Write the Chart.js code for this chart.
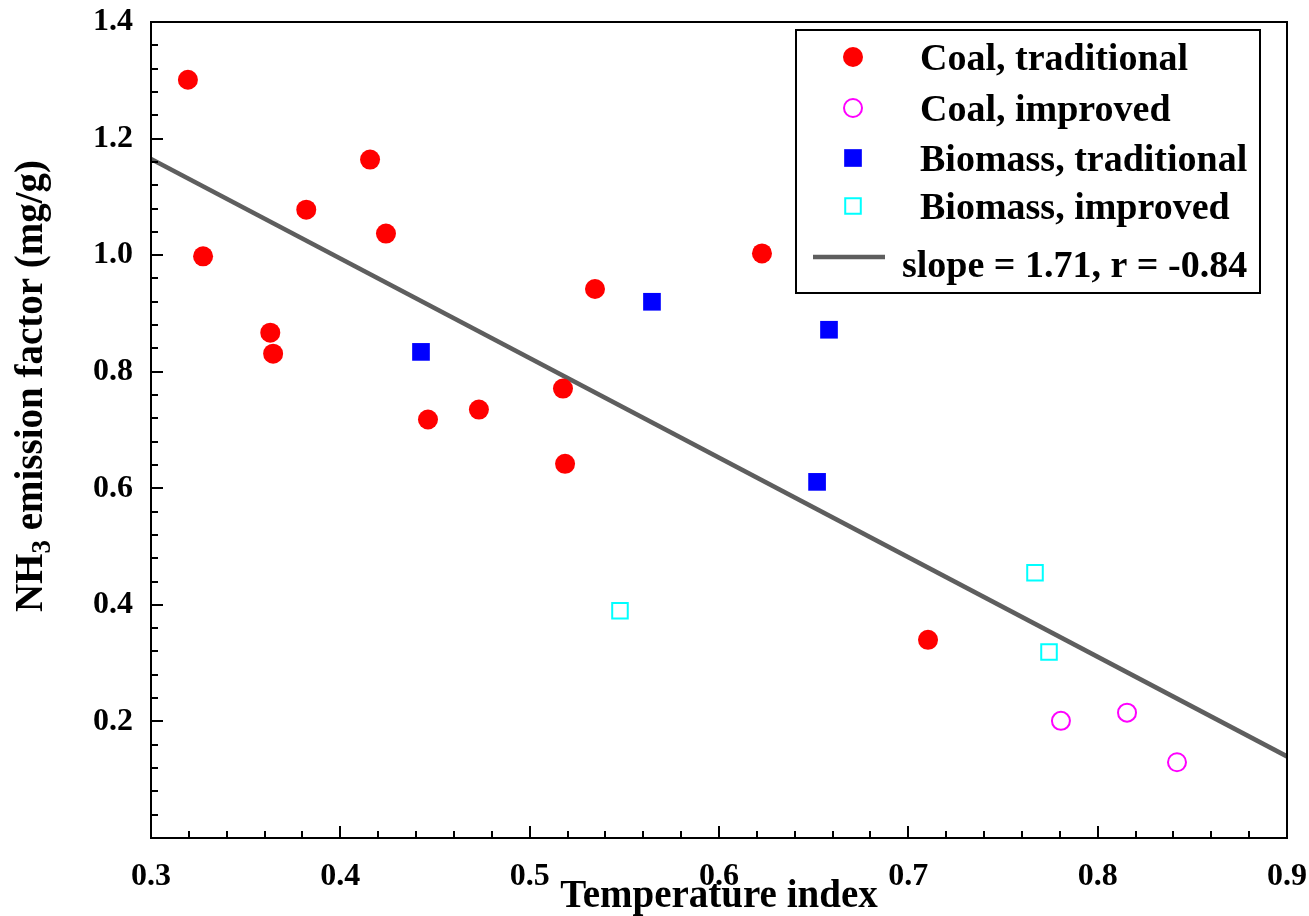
<!DOCTYPE html>
<html>
<head>
<meta charset="utf-8">
<script src="https://cdn.jsdelivr.net/npm/chart.js@4.4.1/dist/chart.umd.min.js"></script>
<style>
  html, body { margin: 0; padding: 0; background: #fff; }
  #wrap { width: 1309px; height: 916px; }
</style>
</head>
<body>
<div id="wrap"><canvas id="myChart" width="1309" height="916"></canvas></div>
<script>
// values
const coalTradX = [0.3195, 0.3275, 0.363, 0.3645, 0.382, 0.4157, 0.4241, 0.4463, 0.4732, 0.5176, 0.5187, 0.5345, 0.6227, 0.7104];
const coalTradY = [1.301, 0.998, 0.867, 0.831, 1.078, 1.164, 1.037, 0.718, 0.735, 0.771, 0.642, 0.942, 1.003, 0.340];

const coalImpX = [0.7806, 0.8155, 0.8419];
const coalImpY = [0.201, 0.215, 0.130];

const bioTradX = [0.4426, 0.5646, 0.6581, 0.6518];
const bioTradY = [0.834, 0.920, 0.872, 0.611];

const bioImpX = [0.5477, 0.7669, 0.7743];
const bioImpY = [0.390, 0.455, 0.319];

const fitX = [0.3, 0.9];
const fitY = [1.165, 0.140];

const seriesLabels = ['Coal, traditional', 'Coal, improved', 'Biomass, traditional', 'Biomass, improved', 'slope = 1.71, r = -0.84'];
const xTicks = [0.3, 0.4, 0.5, 0.6, 0.7, 0.8, 0.9];
const yTicks = [0.2, 0.4, 0.6, 0.8, 1.0, 1.2, 1.4];

const FONT = '"Liberation Serif", "Times New Roman", serif';

function pts(xs, ys) {
  return xs.map((x, i) => ({ x: x, y: ys[i] }));
}

function noPad(s) {
  s.paddingTop = 0; s.paddingBottom = 0; s.paddingLeft = 0; s.paddingRight = 0;
}

// frame, inward ticks, y title with subscript, boxed legend
const decor = {
  id: 'decor',
  afterDraw(chart) {
    const ctx = chart.ctx;
    const a = chart.chartArea;
    const xs = chart.scales.x, ys = chart.scales.y;
    ctx.save();
    ctx.strokeStyle = '#000';
    ctx.lineWidth = 2;
    ctx.strokeRect(a.left, a.top, a.right - a.left, a.bottom - a.top);

    // x ticks
    ctx.beginPath();
    for (let v = 0.32; v < 0.9; v += 0.02) {
      const major = Math.abs(v * 10 - Math.round(v * 10)) < 1e-6;
      const px = Math.round(xs.getPixelForValue(v));
      ctx.moveTo(px, a.bottom);
      ctx.lineTo(px, a.bottom - (major ? 12 : 7));
    }
    // y ticks
    for (let v = 0.04; v < 1.4; v += 0.04) {
      const major = Math.abs(v * 5 - Math.round(v * 5)) < 1e-6;
      const py = Math.round(ys.getPixelForValue(v));
      ctx.moveTo(a.left, py);
      ctx.lineTo(a.left + (major ? 12 : 7), py);
    }
    ctx.stroke();

    // y title
    ctx.fillStyle = '#000';
    ctx.translate(32, 386);
    ctx.rotate(-Math.PI / 2);
    ctx.textBaseline = 'middle';
    ctx.textAlign = 'left';
    const big = 'bold 39px ' + FONT, small = 'bold 27px ' + FONT;
    ctx.font = big;
    const w1 = ctx.measureText('NH').width;
    const w3 = ctx.measureText(' emission factor (mg/g)').width;
    ctx.font = small;
    const w2 = ctx.measureText('3').width;
    let x0 = -(w1 + w2 + w3) / 2;
    ctx.font = big;
    ctx.fillText('NH', x0, 0);
    ctx.font = small;
    ctx.fillText('3', x0 + w1, 11);
    ctx.font = big;
    ctx.fillText(' emission factor (mg/g)', x0 + w1 + w2, 0);
    ctx.restore();

    // legend
    ctx.save();
    ctx.strokeStyle = '#000';
    ctx.lineWidth = 2;
    ctx.strokeRect(796, 30, 464, 263);
    const rows = [57, 108, 158, 206];
    const ds = chart.data.datasets;
    ctx.font = 'bold 38px ' + FONT;
    ctx.textBaseline = 'alphabetic';
    for (let i = 0; i < 4; i++) {
      const d = ds[i];
      ctx.fillStyle = d.backgroundColor;
      ctx.strokeStyle = d.borderColor;
      ctx.lineWidth = d.borderWidth;
      Chart.helpers.drawPoint(ctx, { pointStyle: d.pointStyle, radius: d.pointRadius, borderWidth: d.borderWidth }, 853, rows[i]);
      ctx.fillStyle = '#000';
      ctx.fillText(d.label, 920, rows[i] + 13);
    }
    ctx.strokeStyle = ds[4].borderColor;
    ctx.lineWidth = 4.5;
    ctx.beginPath();
    ctx.moveTo(813, 257);
    ctx.lineTo(885, 257);
    ctx.stroke();
    ctx.fillStyle = '#000';
    ctx.fillText(ds[4].label, 902, 277);
    ctx.restore();
  }
};

const ctx = document.getElementById('myChart');

new Chart(ctx, {
  type: 'scatter',
  data: {
    datasets: [
      {
        label: seriesLabels[0],
        data: pts(coalTradX, coalTradY),
        pointStyle: 'circle', pointRadius: 10,
        backgroundColor: '#ff0000', borderColor: '#ff0000', borderWidth: 0,
        order: 1
      },
      {
        label: seriesLabels[1],
        data: pts(coalImpX, coalImpY),
        pointStyle: 'circle', pointRadius: 9,
        backgroundColor: 'rgba(0,0,0,0)', borderColor: '#ff00ff', borderWidth: 2,
        order: 1
      },
      {
        label: seriesLabels[2],
        data: pts(bioTradX, bioTradY),
        pointStyle: 'rect', pointRadius: 12.5,
        backgroundColor: '#0000ff', borderColor: '#0000ff', borderWidth: 0,
        order: 1
      },
      {
        label: seriesLabels[3],
        data: pts(bioImpX, bioImpY),
        pointStyle: 'rect', pointRadius: 11,
        backgroundColor: 'rgba(0,0,0,0)', borderColor: '#00ffff', borderWidth: 2,
        order: 1
      },
      {
        type: 'line',
        label: seriesLabels[4],
        data: pts(fitX, fitY),
        borderColor: '#5e5e5e', borderWidth: 4.5,
        pointRadius: 0, fill: false,
        order: 2
      }
    ]
  },
  options: {
    responsive: false,
    animation: false,
    layout: { padding: { top: 22, right: 22, left: 0, bottom: 0 } },
    plugins: {
      legend: { display: false },
      tooltip: { enabled: false }
    },
    scales: {
      x: {
        type: 'linear',
        min: 0.3, max: 0.9,
        afterBuildTicks: s => { s.ticks = xTicks.map(v => ({ value: v })); },
        afterFit: s => { s.height = 78; noPad(s); },
        grid: { display: false },
        border: { display: false },
        ticks: {
          padding: 12,
          color: '#000',
          font: { family: FONT, size: 32, weight: 'bold' },
          maxRotation: 0,
          callback: v => v.toFixed(1)
        },
        title: {
          display: true,
          text: 'Temperature index',
          color: '#000',
          font: { family: FONT, size: 39, weight: 'bold' },
          padding: { top: 0, bottom: -4 }
        }
      },
      y: {
        type: 'linear',
        min: 0, max: 1.4,
        afterBuildTicks: s => { s.ticks = yTicks.map(v => ({ value: v })); },
        afterFit: s => { s.width = 151; noPad(s); },
        grid: { display: false },
        border: { display: false },
        ticks: {
          padding: 10,
          color: '#000',
          font: { family: FONT, size: 32, weight: 'bold' },
          callback: v => v.toFixed(1)
        }
      }
    }
  },
  plugins: [decor]
});
</script>
</body>
</html>
